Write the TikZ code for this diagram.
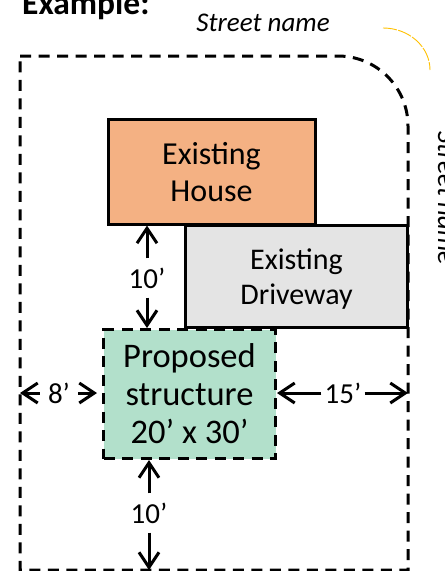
\documentclass[tikz,border=0pt]{standalone}
\usepackage{fontspec}
\setmainfont{Carlito}
\usetikzlibrary{arrows.meta}
\definecolor{houseorange}{HTML}{F4B183}
\definecolor{drivegrey}{HTML}{E4E4E4}
\definecolor{structgreen}{HTML}{B2E0CB}
\definecolor{curbyellow}{HTML}{FFC000}

\begin{document}
\begin{tikzpicture}[x=1pt, y=-1pt, >={Straight Barb[length=15pt,width=20pt]},
    block/.style={draw, line width=3pt, minimum width=#1, anchor=north west, align=center, inner sep=0pt},
    lot line/.style={line width=3pt, dash pattern=on 11pt off 7.5pt},
    dim/.style={->, line width=3pt},
    dim label/.style={inner xsep=3pt, inner ysep=9pt, font=\fontsize{29}{30}\selectfont}]

    \useasboundingbox (0,0) rectangle (445,571);

    % Lot boundary
    \coordinate (lotnw) at (20,56);
    \coordinate (lotse) at (408,570);
    \draw[lot line]
        (lotnw) -- (338,56) arc[start angle=-90, end angle=0, radius=70] -- (lotse) -- (lotnw |- lotse) -- cycle;
    \draw[curbyellow, line width=0.9pt, dash pattern=on 14pt off 1.5pt]
        (383,28) arc[start angle=-90, end angle=0, x radius=47, y radius=42];

    % Buildings
    \node[block=207pt, minimum height=105pt, fill=houseorange, text depth=-4pt,
        font=\fontsize{32}{37}\selectfont] (house) at (106.5,117.5) {Existing\\House};
    \node[block=222pt, minimum height=102pt, fill=drivegrey, text depth=-2.3pt,
        font=\fontsize{30}{35}\selectfont] (driveway) at (184,224) {Existing\\Driveway};
    \node[block=172pt, minimum height=129pt, fill=structgreen, lot line,
        font=\fontsize{34.5}{38}\selectfont] (structure) at (102,328) {Proposed\\structure\\20’ x 30’};

    % Setbacks
    \node[dim label] (north gap) at (147,278) {10’};
    \draw[dim] (north gap) -- (north gap |- house.south);
    \draw[dim] (north gap) -- (north gap |- structure.north);

    \node[dim label] (south gap) at (149,513) {10’};
    \draw[dim] (south gap) -- (south gap |- structure.south);
    \draw[dim] (south gap) -- (south gap |- lotse);

    \coordinate (west tip) at (97,393);
    \node[dim label, inner xsep=8pt] (west gap) at (59,393) {8’};
    \draw[dim] (west gap) -- (west gap -| lotnw);
    \draw[dim] (west gap) -- (west tip);

    \node[dim label] (east gap) at (343,393) {15’};
    \draw[dim] (east gap) -- (east gap -| structure.east);
    \draw[dim] (east gap) -- (east gap -| lotse);

    % Labels
    \node[anchor=base west, inner sep=0pt, font=\fontsize{33.5}{36}\selectfont\bfseries] (example) at (22,14) {Example:};
    \node[anchor=base, inner sep=0pt, font=\fontsize{27}{30}\selectfont\itshape] (street top) at (263,31) {Street name};
    \node[anchor=base, inner sep=0pt, rotate=-90, font=\fontsize{27}{30}\selectfont\itshape] (street side) at (438,198) {Street name};
\end{tikzpicture}
\end{document}
